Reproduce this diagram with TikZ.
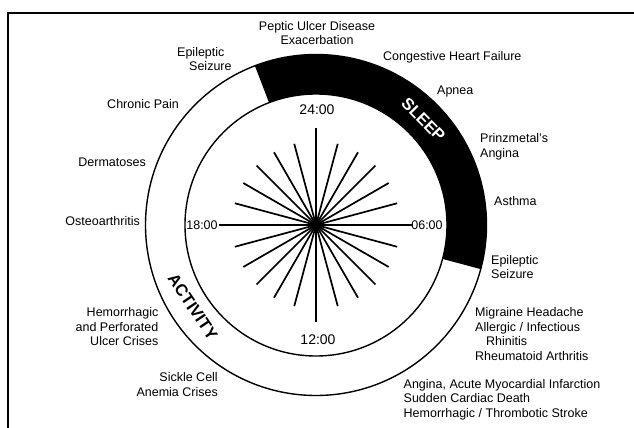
\documentclass[tikz,border=0pt]{standalone}
\usepackage{fontspec}
\setmainfont{Liberation Sans}
\usetikzlibrary{positioning}

\begin{document}
\begin{tikzpicture}[x=1pt, y=1pt,
        every node/.style={font=\fontsize{12.5}{14.5}\selectfont, inner sep=0pt},
        clocklabel/.style={font=\fontsize{14}{16}\selectfont},
        bandlabel/.style={font=\fontsize{16.5}{18}\selectfont\bfseries},
        ring/.style={draw, line width=1.4pt},
        spoke/.style={line width=1.7pt},
        frame/.style={line width=2.3pt}
    ]
    \useasboundingbox (-316,-203) rectangle (318,225);
    \coordinate (hub) at (0,0);

    % Frame
    \draw [frame] (-308.2,-203) |- (318,212.2);

    % Sleep band and rings
    \fill (111:131) arc[start angle=111, end angle=-15, radius=131]
        -- (-15:170.5) arc[start angle=-15, end angle=111, radius=170.5] -- cycle;
    \draw [ring] (hub) circle[radius=170.5];
    \draw [ring] (hub) circle[radius=131];

    % Hours
    \foreach \a in {0,15,...,345} {
        \pgfmathsetmacro{\spokelen}{mod(\a,90)==0 ? 97 : 84}
        \draw [spoke] (hub) -- (\a:\spokelen);
    }
    \node (Midnight) [clocklabel] at (1,115) {24:00};
    \node (Noon) [clocklabel] at (2,-115) {12:00};
    \node (Evening) at (-114,0) {18:00};
    \node (Morning) at (111,0) {06:00};

    \node (Sleep) [bandlabel, text=white, rotate=-45.5] at (44.5:150.5) {SLEEP};
    \node (Activity) [bandlabel, rotate=-56] at (213.6:148) {ACTIVITY};

    % Disorders
    \node (Peptic) [align=center] at (1,192) {Peptic Ulcer Disease\\Exacerbation};
    \node (SeizureA) [align=left, anchor=west] at (-139,166) {Epileptic\\\hspace*{12pt}Seizure};
    \node (CHF) [anchor=west] at (67,168) {Congestive Heart Failure};
    \node (Pain) [anchor=east] at (-137,121) {Chronic Pain};
    \node (Apnea) [anchor=west] at (121,134) {Apnea};
    \node (Prinz) [align=left, anchor=west] at (164,78) {Prinzmetal's\\Angina};
    \node (Derm) [anchor=east] at (-170,63) {Dermatoses};
    \node (Asthma) [anchor=west] at (178,24) {Asthma};
    \node (Osteo) [anchor=east] at (-176,4) {Osteoarthritis};
    \node (SeizureB) [align=left, anchor=west] at (175,-42) {Epileptic\\Seizure};
    \node (Ulcer) [align=right, anchor=east] at (-157.5,-102) {Hemorrhagic\\and Perforated\\Ulcer Crises};
    \node (Migraine) [align=left, anchor=west] at (159,-109)
        {Migraine Headache\\Allergic / Infectious\\\hspace*{11pt}Rhinitis\\Rheumatoid Arthritis};
    \node (Sickle) [align=right, anchor=east] at (-98,-159.5) {Sickle Cell\\Anemia Crises};
    \node (Cardiac) [align=left, anchor=west] at (87.5,-174.5)
        {Angina, Acute Myocardial Infarction\\Sudden Cardiac Death\\Hemorrhagic / Thrombotic Stroke};

\end{tikzpicture}
\end{document}
